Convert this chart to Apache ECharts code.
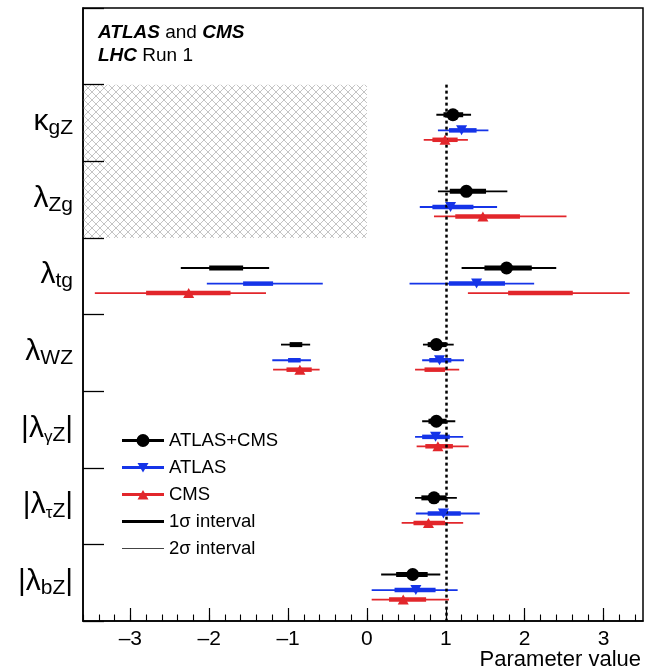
<!DOCTYPE html>
<html><head><meta charset="utf-8">
<script src="https://cdn.jsdelivr.net/npm/echarts@6/dist/echarts.min.js"></script>
<style>html,body{margin:0;padding:0;background:#fff}#c{width:653px;height:672px}</style>
</head><body><div id="c"></div>
<script>
// ---------- data ----------
const params = ['κgZ', 'λZg', 'λtg', 'λWZ', '|λγZ|', '|λτZ|', '|λbZ|'];
const labelMain = ['κ', 'λ', 'λ', 'λ', '|λ', '|λ', '|λ'];
const labelSubGreek = ['', '', '', '', 'γ', 'τ', ''];
const labelSub = ['gZ', 'Zg', 'tg', 'WZ', 'Z', 'Z', 'bZ'];
const labelTail = ['', '', '', '', '|', '|', '|'];

const majorTicks = [-3, -2, -1, 0, 1, 2, 3];
const minorStep = 0.2;
const xRange = [-3.6, 3.5];
const xTitle = 'Parameter value';
const smValue = 1;                 // SM expectation (dotted line)
const hatchX = [-3.6, 0];          // excluded region for ratio parameters
const hatchParams = ['κgZ', 'λZg'];

// ATLAS+CMS
const comboBest = [1.09, 1.26, 1.77, 0.88, 0.88, 0.85, 0.58];
const combo1s = [[[0.97, 1.22]], [[1.05, 1.51]], [[-2.00, -1.57], [1.49, 2.09]], [[-0.98, -0.82], [0.77, 1.01]], [[0.78, 1.01]], [[0.69, 1.01]], [[0.37, 0.77]]];
const combo2s = [[[0.88, 1.32]], [[0.90, 1.78]], [[-2.36, -1.24], [1.20, 2.40]], [[-1.09, -0.72], [0.71, 1.10]], [[0.70, 1.12]], [[0.61, 1.14]], [[0.18, 0.93]]];
// ATLAS
const atlasBest = [1.20, 1.06, 1.39, 0.92, 0.87, 0.97, 0.62];
const atlas1s = [[[1.04, 1.39]], [[0.83, 1.35]], [[-1.57, -1.19], [1.04, 1.75]], [[-1.00, -0.84], [0.79, 1.07]], [[0.70, 1.05]], [[0.77, 1.19]], [[0.35, 0.87]]];
const atlas2s = [[[0.90, 1.54]], [[0.67, 1.65]], [[-2.03, -0.56], [0.54, 2.12]], [[-1.20, -0.71], [0.70, 1.23]], [[0.61, 1.22]], [[0.62, 1.43]], [[0.06, 1.15]]];
// CMS
const cmsBest = [0.99, 1.47, -2.26, -0.85, 0.90, 0.78, 0.46];
const cms1s = [[[0.83, 1.15]], [[1.12, 1.94]], [[-2.80, -1.73], [1.79, 2.61]], [[-1.02, -0.70], [0.73, 0.99]], [[0.74, 1.09]], [[0.59, 0.99]], [[0.28, 0.75]]];
const cms2s = [[[0.72, 1.28]], [[0.85, 2.53]], [[-3.45, -1.28], [1.28, 3.33]], [[-1.19, -0.60], [0.61, 1.17]], [[0.63, 1.29]], [[0.44, 1.22]], [[0.06, 1.04]]];

// ---------- styling ----------
const FF = '"Liberation Sans", Arial, Helvetica, sans-serif';
const experiments = [
  { name: 'ATLAS+CMS', color: '#000000', best: comboBest, s1: combo1s, s2: combo2s, off: 0.393, symbol: 'circle', size: 13, rot: 0, w1: 5 },
  { name: 'ATLAS', color: '#1534e8', best: atlasBest, s1: atlas1s, s2: atlas2s, off: 0.597, symbol: 'triangle', size: [11, 10], rot: 180, w1: 4.5 },
  { name: 'CMS', color: '#e2262b', best: cmsBest, s1: cms1s, s2: cms2s, off: 0.72, symbol: 'triangle', size: [11, 10], rot: 0, w1: 4.5 }
];
const categories = [''].concat(params);

function rowY(i, off) { return i + 1 + off; }

function intervalData(key) {
  const out = [];
  experiments.forEach((e, ei) => {
    e[key].forEach((ranges, i) => {
      ranges.forEach(r => out.push([r[0], r[1], rowY(i, e.off), ei]));
    });
  });
  return out;
}

function intervalRenderer(key) {
  return function (p, api) {
    const ei = api.value(3);
    const a = api.coord([api.value(0), api.value(2)]);
    const b = api.coord([api.value(1), api.value(2)]);
    const lw = key === 's1' ? experiments[ei].w1 : 1.8;
    return { type: 'line', shape: { x1: a[0], y1: a[1], x2: b[0], y2: b[1] },
      style: { stroke: experiments[ei].color, lineWidth: lw, lineCap: 'butt' } };
  };
}

const minorTicks = [];
for (let k = Math.ceil(xRange[0] / minorStep); k * minorStep <= xRange[1]; k++) {
  minorTicks.push(Math.round(k * minorStep * 100) / 100);
}

// hatch pattern
const pat = document.createElement('canvas');
pat.width = 8; pat.height = 8;
const pc = pat.getContext('2d');
pc.strokeStyle = '#c4c4c4'; pc.lineWidth = 1;
pc.beginPath(); pc.moveTo(0, 0); pc.lineTo(8, 8); pc.moveTo(8, 0); pc.lineTo(0, 8); pc.stroke();

const hatchRows = hatchParams.map(n => params.indexOf(n));
const hatchTop = Math.min(...hatchRows) + 1;
const hatchBottom = Math.max(...hatchRows) + 2;

const corners = 'M0 0L0.01 0L0.01 0.01ZM42 14L41.99 14L41.99 13.99Z';
const icons = {
  'ATLAS+CMS': 'path://' + corners + 'M0 5.5H42V8.5H0ZM14.5 7A6.5 6.5 0 1 1 27.5 7A6.5 6.5 0 1 1 14.5 7Z',
  'ATLAS': 'path://' + corners + 'M0 5.5H42V8.5H0ZM15.5 2.5H26.5L21 12Z',
  'CMS': 'path://' + corners + 'M0 5.5H42V8.5H0ZM15.5 12L21 2.5L26.5 12Z',
  '1σ interval': 'path://' + corners + 'M0 5.5H42V8.5H0Z',
  '2σ interval': 'path://' + corners + 'M0 6.4H42V7.6H0Z'
};

const scatterSeries = experiments.map((e, ei) => {
  const s = {
    name: e.name, type: 'scatter', xAxisIndex: 0, yAxisIndex: 1,
    symbol: e.symbol, symbolSize: e.size, symbolRotate: e.rot,
    itemStyle: { color: e.color, opacity: 1 }, z: 5,
    data: e.best.map((v, i) => [v, rowY(i, e.off)])
  };
  if (ei === 0) {
    s.markArea = {
      silent: true, z: 1,
      itemStyle: { color: { image: pat, repeat: 'repeat' }, opacity: 1, borderWidth: 0 },
      data: [[{ coord: [hatchX[0], hatchTop] }, { coord: [hatchX[1], hatchBottom] }]]
    };
    s.markLine = {
      silent: true, symbol: ['none', 'none'], label: { show: false },
      lineStyle: { color: '#000', width: 2.5, type: [3, 3] },
      data: [[{ coord: [smValue, 1] }, { coord: [smValue, categories.length] }]]
    };
  }
  return s;
});

const chart = echarts.init(document.getElementById('c'), null, { renderer: 'canvas' });
chart.setOption({
  animation: false,
  backgroundColor: '#fff',
  title: {
    left: 93, top: 16,
    text: '{bi|ATLAS} and {bi|CMS}\n{bi|LHC} Run 1',
    textStyle: {
      fontFamily: FF, fontSize: 19, fontWeight: 'normal', color: '#000', lineHeight: 23,
      rich: { bi: { fontFamily: FF, fontSize: 19, fontWeight: 'bold', fontStyle: 'italic', color: '#000', lineHeight: 23 } }
    }
  },
  graphic: [{
    type: 'text', right: 12, top: 649, z: 10,
    style: { text: xTitle, font: '22px "Liberation Sans", Arial, sans-serif', fill: '#000' }
  }],
  legend: {
    orient: 'vertical', left: 117, top: 426, itemWidth: 42, itemHeight: 14, itemGap: 8,
    selectedMode: false,
    textStyle: { fontFamily: FF, fontSize: 18.5, color: '#000' },
    data: [
      { name: 'ATLAS+CMS', icon: icons['ATLAS+CMS'], itemStyle: { color: '#000' } },
      { name: 'ATLAS', icon: icons['ATLAS'], itemStyle: { color: experiments[1].color } },
      { name: 'CMS', icon: icons['CMS'], itemStyle: { color: experiments[2].color } },
      { name: '1σ interval', icon: icons['1σ interval'], itemStyle: { color: '#000' } },
      { name: '2σ interval', icon: icons['2σ interval'], itemStyle: { color: '#444' } }
    ]
  },
  grid: { left: 83, right: 10, top: 8, bottom: 51, show: true, borderColor: '#000', borderWidth: 1.5,
    containLabel: false, outerBoundsMode: 'none' },
  xAxis: [
    {
      type: 'value', min: xRange[0], max: xRange[1], position: 'bottom', z: 3,
      axisLine: { show: true, onZero: false, lineStyle: { color: '#000', width: 1.5 } },
      axisTick: { show: true, inside: true, length: 13, customValues: majorTicks, lineStyle: { color: '#000', width: 1.2 } },
      axisLabel: { show: true, customValues: majorTicks, margin: 8, fontFamily: FF, fontSize: 21, color: '#000',
        formatter: v => (v < 0 ? '\u2013' + Math.abs(v) : String(v)) },
      splitLine: { show: false }
    },
    {
      type: 'value', min: xRange[0], max: xRange[1], position: 'bottom', z: 3,
      axisLine: { show: false, onZero: false },
      axisTick: { show: true, inside: true, length: 6.5, customValues: minorTicks, lineStyle: { color: '#000', width: 1.1 } },
      axisLabel: { show: false },
      splitLine: { show: false }
    }
  ],
  yAxis: [
    {
      type: 'category', data: categories, inverse: true, boundaryGap: true, position: 'left', z: 3,
      axisLine: { show: true, onZero: false, lineStyle: { color: '#000', width: 1.5 } },
      axisTick: { show: true, inside: true, length: 21, alignWithLabel: false, lineStyle: { color: '#000', width: 1.3 } },
      axisLabel: {
        interval: 0, margin: 10,
        formatter: (val, idx) => {
          const i = params.indexOf(val);
          if (i < 0) return '';
          let s = '{m|' + labelMain[i] + '}';
          if (labelSubGreek[i]) s += '{g|' + labelSubGreek[i] + '}';
          s += '{s|' + labelSub[i] + '}';
          if (labelTail[i]) s += '{m|' + labelTail[i] + '}';
          return s;
        },
        rich: {
          m: { fontFamily: FF, fontSize: 30, lineHeight: 32, verticalAlign: 'top', color: '#000' },
          s: { fontFamily: FF, fontSize: 21, lineHeight: 21, verticalAlign: 'bottom', padding: [22, 0, 0, 0], color: '#000' },
          g: { fontFamily: FF, fontSize: 17, lineHeight: 17, verticalAlign: 'bottom', padding: [26, 0, 0, 0], color: '#000' }
        }
      },
      splitLine: { show: false }
    },
    { type: 'value', min: 0, max: categories.length, inverse: true, show: false }
  ],
  series: [
    { name: '2σ interval', type: 'custom', xAxisIndex: 0, yAxisIndex: 1, renderItem: intervalRenderer('s2'),
      encode: { x: [0, 1], y: 2 }, data: intervalData('s2'), itemStyle: { color: '#444' }, z: 3, silent: true },
    { name: '1σ interval', type: 'custom', xAxisIndex: 0, yAxisIndex: 1, renderItem: intervalRenderer('s1'),
      encode: { x: [0, 1], y: 2 }, data: intervalData('s1'), itemStyle: { color: '#000' }, z: 4, silent: true }
  ].concat(scatterSeries)
});
</script>
</body></html>
